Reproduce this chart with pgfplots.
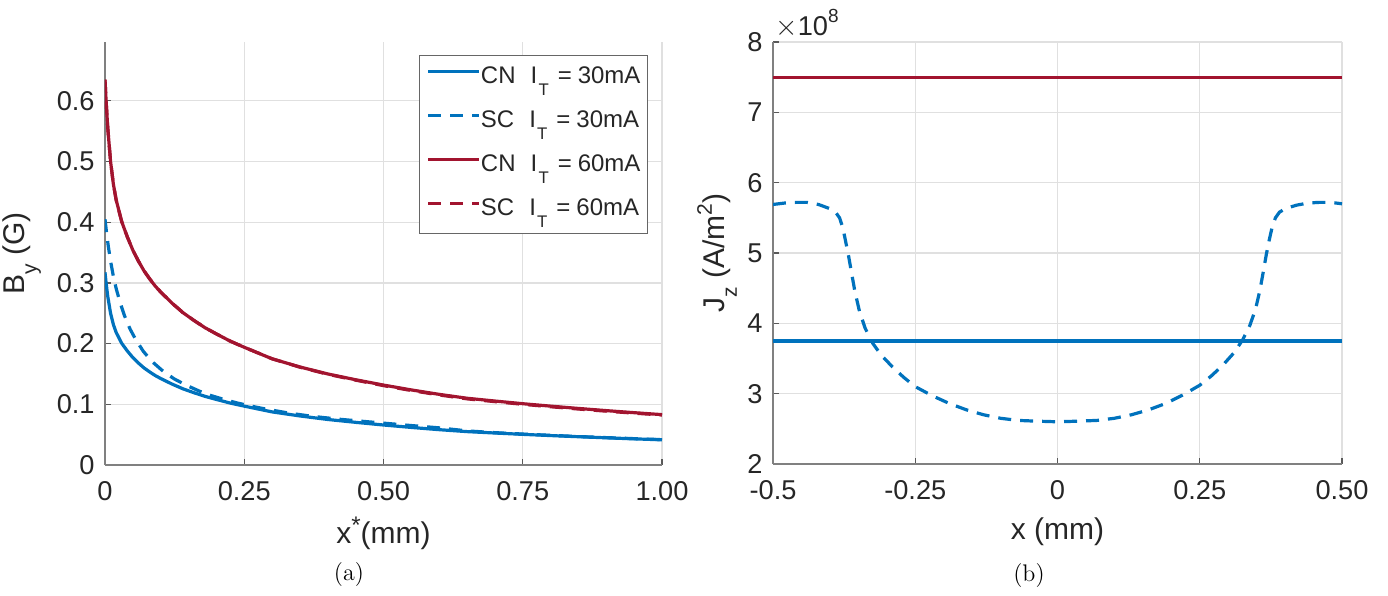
\documentclass[border=0pt]{standalone}
\usepackage{fontspec}
\setsansfont{Liberation Sans}
\renewcommand{\familydefault}{\sfdefault}
\usepackage{pgfplots}
\pgfplotsset{compat=1.18}
\definecolor{mblue}{rgb}{0,0.447,0.741}
\definecolor{mred}{rgb}{0.635,0.078,0.184}
\definecolor{tickc}{rgb}{0.15,0.15,0.15}

% MATLAB-like sub/superscripts: {size}{shift}{text}
\newcommand\msub[3]{\raisebox{-#2}{\fontsize{#1}{#1}\selectfont #3}}
\newcommand\msup[3]{\raisebox{#2}{\fontsize{#1}{#1}\selectfont #3}}
\newcommand\leg[2]{#1\hspace{7.5pt}I\hspace{0.6pt}\msub{8.4}{6pt}{T}\hspace{4.5pt}=\hspace{3pt}#2mA}

\pgfplotsset{
 myaxis/.style={
  scale only axis,
  anchor=south west,
  axis x line*=bottom, axis y line*=left,
  axis line style={draw=black!50, line width=0.6pt, -},
  tick style={draw=black!65, line width=0.6pt},
  tick align=inside,
  major tick length=3pt,
  grid=major,
  major grid style={draw=black!12, line width=0.6pt},
  ticklabel style={font=\fontsize{13.6}{13.6}\selectfont, text=tickc},
  /pgf/number format/assume math mode=true,
  xticklabel style={anchor=north, inner sep=0pt, yshift=-8pt},
  yticklabel style={anchor=east, inner sep=0pt, xshift=-5pt},
  label style={font=\fontsize{15}{15}\selectfont, text=tickc},
  every axis plot/.append style={line width=1.6pt},
 },
 dsh/.style={dash pattern=on 6.5pt off 4.5pt},
}

\begin{document}
\begin{tikzpicture}[x=1pt,y=1pt]
\path[use as bounding box] (0,0) rectangle (694,297.5);

% ---------------- (a) ----------------
\begin{axis}[myaxis,
  name=A,
  at={(52.5pt,65pt)},
  width=278.5pt, height=211.5pt,
  xmin=0, xmax=1, ymin=0, ymax=0.697,
  xtick={0,0.25,0.5,0.75,1},
  xticklabels={0,0.25,0.50,0.75,1.00},
  ytick={0,0.1,0.2,0.3,0.4,0.5,0.6},
  yticklabels={0,0.1,0.2,0.3,0.4,0.5,0.6},
  xlabel={x\msup{12}{5pt}{*}(mm)},
  ylabel={B\msub{10.5}{6pt}{y} (G)},
  xlabel style={at={(axis description cs:0.5,-0.1608)}, anchor=center},
  ylabel style={at={(axis description cs:-0.149,0.5)}, anchor=center},
  legend cell align=left,
  legend image code/.code={\draw[#1] (0pt,3.6pt) -- (25.5pt,3.6pt);},
  legend style={at={(0.975,0.969)}, anchor=north east,
    draw=black!60, line width=0.6pt, fill=white,
    font=\fontsize{12}{12}\selectfont, text=tickc,
    inner xsep=3.5pt, inner ysep=0.5pt, row sep=0pt,
    nodes={inner sep=0pt, text height=13.3pt, text depth=8.7pt},
    /tikz/every even column/.append style={column sep=2.5pt}},
]
\addplot[mblue] coordinates {
(0,0.3175)(0.002,0.300)(0.005,0.2775)(0.01,0.250)(0.015,0.2315)(0.02,0.2185)
(0.03,0.2005)(0.04,0.188)(0.05,0.177)(0.06,0.168)(0.07,0.160)(0.08,0.1535)
(0.09,0.1475)(0.10,0.1425)(0.12,0.1335)(0.14,0.1255)(0.16,0.119)(0.18,0.113)
(0.20,0.108)(0.225,0.102)(0.25,0.097)(0.30,0.0875)(0.35,0.0808)(0.40,0.075)
(0.45,0.0703)(0.50,0.0659)(0.55,0.0619)(0.60,0.0582)(0.65,0.055)(0.70,0.0527)
(0.75,0.0505)(0.80,0.0485)(0.85,0.0466)(0.90,0.0448)(0.95,0.0431)(1.00,0.0415)};
\addlegendentry{\leg{CN}{30}}
\addplot[mblue,dsh] coordinates {
(0,0.405)(0.003,0.381)(0.006,0.360)(0.01,0.336)(0.015,0.311)(0.02,0.291)
(0.027,0.268)(0.035,0.246)(0.045,0.224)(0.055,0.207)(0.069,0.187)(0.085,0.170)
(0.105,0.154)(0.125,0.1415)(0.147,0.131)(0.17,0.1215)(0.19,0.1145)(0.21,0.109)
(0.236,0.1025)(0.26,0.0975)(0.284,0.093)(0.33,0.0855)(0.374,0.080)(0.42,0.0755)
(0.46,0.0722)(0.50,0.069)(0.55,0.065)(0.60,0.0612)(0.65,0.0562)(0.70,0.0533)
(0.75,0.051)(0.80,0.0489)(0.85,0.0469)(0.90,0.0451)(0.95,0.0434)(1.00,0.0418)};
\addlegendentry{\leg{SC}{30}}
\addplot[mred] coordinates {
(0,0.635)(0.002,0.600)(0.005,0.555)(0.01,0.500)(0.015,0.463)(0.02,0.437)
(0.03,0.401)(0.04,0.376)(0.05,0.354)(0.06,0.336)(0.07,0.320)(0.08,0.307)
(0.09,0.295)(0.10,0.285)(0.12,0.267)(0.14,0.251)(0.16,0.238)(0.18,0.226)
(0.20,0.216)(0.225,0.204)(0.25,0.194)(0.30,0.175)(0.35,0.1615)(0.40,0.150)
(0.45,0.1405)(0.50,0.1317)(0.55,0.1237)(0.60,0.1164)(0.65,0.110)(0.70,0.1054)
(0.75,0.101)(0.80,0.097)(0.85,0.0932)(0.90,0.0896)(0.95,0.0862)(1.00,0.083)};
\addlegendentry{\leg{CN}{60}}
\addplot[mred,dsh] coordinates {
(0,0.635)(0.002,0.600)(0.005,0.555)(0.01,0.500)(0.015,0.463)(0.02,0.437)
(0.03,0.401)(0.04,0.376)(0.05,0.354)(0.06,0.336)(0.07,0.320)(0.08,0.307)
(0.09,0.295)(0.10,0.285)(0.12,0.267)(0.14,0.251)(0.16,0.238)(0.18,0.226)
(0.20,0.216)(0.225,0.204)(0.25,0.194)(0.30,0.175)(0.35,0.1612)(0.40,0.1495)
(0.45,0.1398)(0.50,0.1308)(0.55,0.1227)(0.60,0.1154)(0.65,0.109)(0.70,0.1044)
(0.75,0.1000)(0.80,0.0960)(0.85,0.0922)(0.90,0.0887)(0.95,0.0854)(1.00,0.0824)};
\addlegendentry{\leg{SC}{60}}
\end{axis}

% ---------------- (b) ----------------
\begin{axis}[myaxis,
  name=B,
  at={(386.5pt,65.5pt)},
  width=284.5pt, height=211pt,
  xmin=-0.5, xmax=0.5, ymin=2, ymax=8,
  xtick={-0.5,-0.25,0,0.25,0.5},
  xticklabels={-0.5,-0.25,0,0.25,0.50},
  ytick={2,3,4,5,6,7,8},
  yticklabels={2,3,4,5,6,7,8},
  xlabel={x (mm)},
  ylabel={J\msub{10.5}{6pt}{z} (A/m\msup{10.5}{6.5pt}{2})},
  xlabel style={at={(axis description cs:0.5,-0.161)}, anchor=center},
  ylabel style={at={(axis description cs:-0.0984,0.5)}, anchor=center},
]
\addplot[mblue] coordinates {(-0.5,3.75)(0.5,3.75)};
\addplot[mblue,dsh] coordinates {
(-0.5,5.69)(-0.48,5.71)(-0.46,5.72)(-0.44,5.72)(-0.42,5.69)(-0.40,5.63)
(-0.39,5.58)(-0.383,5.50)(-0.377,5.35)(-0.372,5.15)(-0.367,4.95)(-0.362,4.72)
(-0.356,4.45)(-0.348,4.17)(-0.338,3.93)(-0.325,3.72)(-0.31,3.55)(-0.29,3.38)
(-0.27,3.23)(-0.25,3.10)(-0.22,2.97)(-0.19,2.86)(-0.16,2.77)(-0.13,2.70)
(-0.10,2.65)(-0.07,2.62)(-0.04,2.61)(0,2.60)(0.04,2.61)(0.07,2.62)
(0.10,2.65)(0.13,2.70)(0.16,2.77)(0.19,2.86)(0.22,2.98)(0.25,3.12)
(0.27,3.25)(0.29,3.40)(0.31,3.58)(0.325,3.76)(0.338,3.97)(0.348,4.20)
(0.356,4.48)(0.362,4.75)(0.367,4.98)(0.372,5.18)(0.377,5.36)(0.383,5.50)
(0.39,5.58)(0.40,5.63)(0.42,5.68)(0.44,5.71)(0.46,5.72)(0.48,5.72)(0.5,5.70)};
\addplot[mred] coordinates {(-0.5,7.5)(0.5,7.5)};
\end{axis}

\node[anchor=base west, inner sep=0pt, font=\fontsize{13.6}{13.6}\selectfont, text=tickc]
  at ([xshift=1pt,yshift=3.5pt]B.north west) {$\times$10\msup{9.5}{6.5pt}{8}};
\node[font=\rmfamily\fontsize{12}{12}\selectfont] at (174.5,10) {(a)};
\node[font=\rmfamily\fontsize{12}{12}\selectfont] at (514.5,9.5) {(b)};
\end{tikzpicture}
\end{document}
